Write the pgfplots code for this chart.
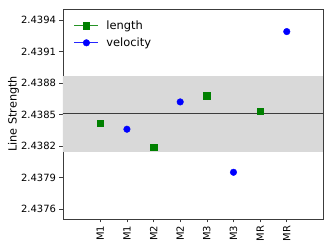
\documentclass[border=0pt]{standalone}
\usepackage{fontspec}
\setmainfont{DejaVu Sans}
\usepackage{pgfplots}
\pgfplotsset{compat=1.18}
\definecolor{mgreen}{RGB}{0,128,0}
\definecolor{mblue}{RGB}{0,0,255}
\definecolor{spine}{RGB}{60,60,60}
\begin{document}
\begin{tikzpicture}
\begin{axis}[
  scale only axis, width=260bp, height=210bp,
  xmin=-1.4, xmax=8.36, ymin=2.437505, ymax=2.439505,
  axis line style={spine, line width=0.8pt},
  tick align=outside, tick pos=left,
  major tick length=3.5bp,
  every tick/.style={spine, line width=0.6pt},
  xtick={0,1,2,3,4,5,6,7},
  xticklabels={M1,M1,M2,M2,M3,M3,MR,MR},
  xticklabel style={rotate=90, anchor=east, font=\fontsize{10}{12}\selectfont},
  ytick={2.4376,2.4379,2.4382,2.4385,2.4388,2.4391,2.4394},
  scaled y ticks=false,
  /pgf/number format/fixed, /pgf/number format/fixed zerofill,
  /pgf/number format/precision=4, /pgf/number format/assume math mode=true,
  yticklabel style={font=\fontsize{10}{12}\selectfont},
  ylabel={Line Strength},
  ylabel style={at={(axis description cs:-0.19,0.5)}, anchor=center, font=\fontsize{11.3}{13}\selectfont},
  legend style={at={(0.03,0.965)}, anchor=north west, draw=none, fill=none, font=\fontsize{11.5}{13}\selectfont, row sep=3pt},
  legend cell align=left,
  clip=true,
]
\addplot[draw=none, fill=black!15, forget plot] coordinates {(-2,2.43814) (10,2.43814) (10,2.43887) (-2,2.43887)} -- cycle;
\addplot[spine, line width=0.9pt, forget plot] coordinates {(-2,2.43851) (10,2.43851)};
\addplot[only marks, mark=square*, mark size=3.2bp, color=mgreen,
  legend image code/.code={\path (1.05cm,0cm); \draw[mgreen!85!white, line width=0.8pt] (0cm,0cm) -- (0.85cm,0cm); \draw[mgreen, only marks, mark=square*, mark size=3.2bp] plot coordinates {(0.425cm,0cm)};}]
  coordinates {(0,2.43842) (2,2.43819) (4,2.43868) (6,2.43853)};
\addlegendentry{length}
\addplot[only marks, mark=*, mark size=3.3bp, color=mblue,
  legend image code/.code={\path (1.05cm,0cm); \draw[mblue!85!white, line width=0.8pt] (0cm,0cm) -- (0.85cm,0cm); \draw[mblue, only marks, mark=*, mark size=3.3bp] plot coordinates {(0.425cm,0cm)};}]
  coordinates {(1,2.43836) (3,2.43862) (5,2.43795) (7,2.43929)};
\addlegendentry{velocity}
\end{axis}
\path (current axis.south west) ++(-63bp,-31bp) coordinate (bbsw);
\path (current axis.north east) ++(10bp,9bp) coordinate (bbne);
\path[use as bounding box] (bbsw) rectangle (bbne);
\end{tikzpicture}
\end{document}
